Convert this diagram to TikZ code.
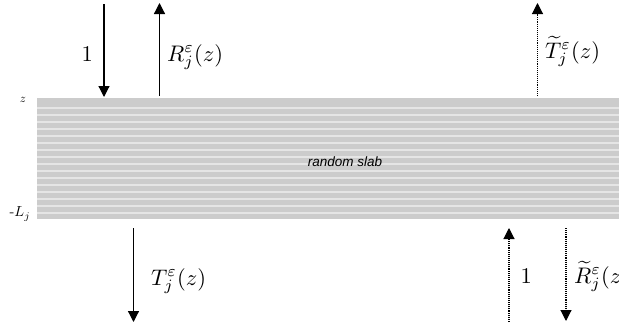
\documentclass[tikz,border=0pt]{standalone}
\usepackage{amsmath}
\usepackage{graphicx}
\usepackage{fontspec}
\newfontfamily\helv{Liberation Sans}
\usetikzlibrary{arrows.meta}
\begin{document}
\begin{tikzpicture}[x=1pt,y=-1pt,
  arr/.style={line width=1.2pt,-{Triangle[width=11pt,length=11pt]}},
  darr/.style={line width=1.1pt,densely dotted,-{Triangle[width=11pt,length=11pt]}},
  biglab/.style={inner sep=0pt,anchor=base west},
  stripe/.style={draw=black!10,line width=2pt}]
\useasboundingbox (0,0) rectangle (619,324);
% slab
\fill[black!20] (37,98) rectangle (619,219);
\foreach \k in {0,...,15} {\draw[stripe] (37,{107.5+7*\k}) -- (619,{107.5+7*\k});}
\node[font=\helv\itshape\fontsize{13.5}{16}\selectfont,inner sep=0pt] (slab) at (345,162) {random slab};
\node[inner sep=0pt] (zl) at (23,100) {\scalebox{1.2}{$z$}};
\node[inner sep=0pt] (Ll) at (20,214) {\scalebox{1.45}{-$L_j$}};
% top arrows
\coordinate (a1s) at (104,4); \coordinate (a1e) at (104,97);
\draw[arr] (a1s) -- (a1e);
\node[biglab] (l1) at (81.5,61) {\scalebox{2.25}{$1$}};
\coordinate (rs) at (159.5,96); \coordinate (re) at (159.5,3);
\draw[arr] (rs) -- (re);
\node[biglab] (lr) at (167,61) {\scalebox{2.25}{$R_j^{\varepsilon}(z)$}};
\coordinate (tts) at (537.5,96); \coordinate (tte) at (537.5,3);
\draw[darr] (tts) -- (tte);
\node[biglab] (ltt) at (545,58) {\scalebox{2.25}{$\widetilde{T}_j^{\varepsilon}(z)$}};
% bottom arrows
\coordinate (ts) at (133.5,228); \coordinate (te) at (133.5,322);
\draw[arr] (ts) -- (te);
\node[biglab] (lt) at (151,285) {\scalebox{2.25}{$T_j^{\varepsilon}(z)$}};
\coordinate (b1s) at (509,322); \coordinate (b1e) at (509,228);
\draw[darr] (b1s) -- (b1e);
\node[biglab] (lb1) at (520.5,283) {\scalebox{2.25}{$1$}};
\coordinate (rts) at (566,228); \coordinate (rte) at (566,321);
\draw[darr] (rts) -- (rte);
\node[biglab] (lrt) at (574,283) {\scalebox{2.25}{$\widetilde{R}_j^{\varepsilon}(z$}};
\end{tikzpicture}
\end{document}
